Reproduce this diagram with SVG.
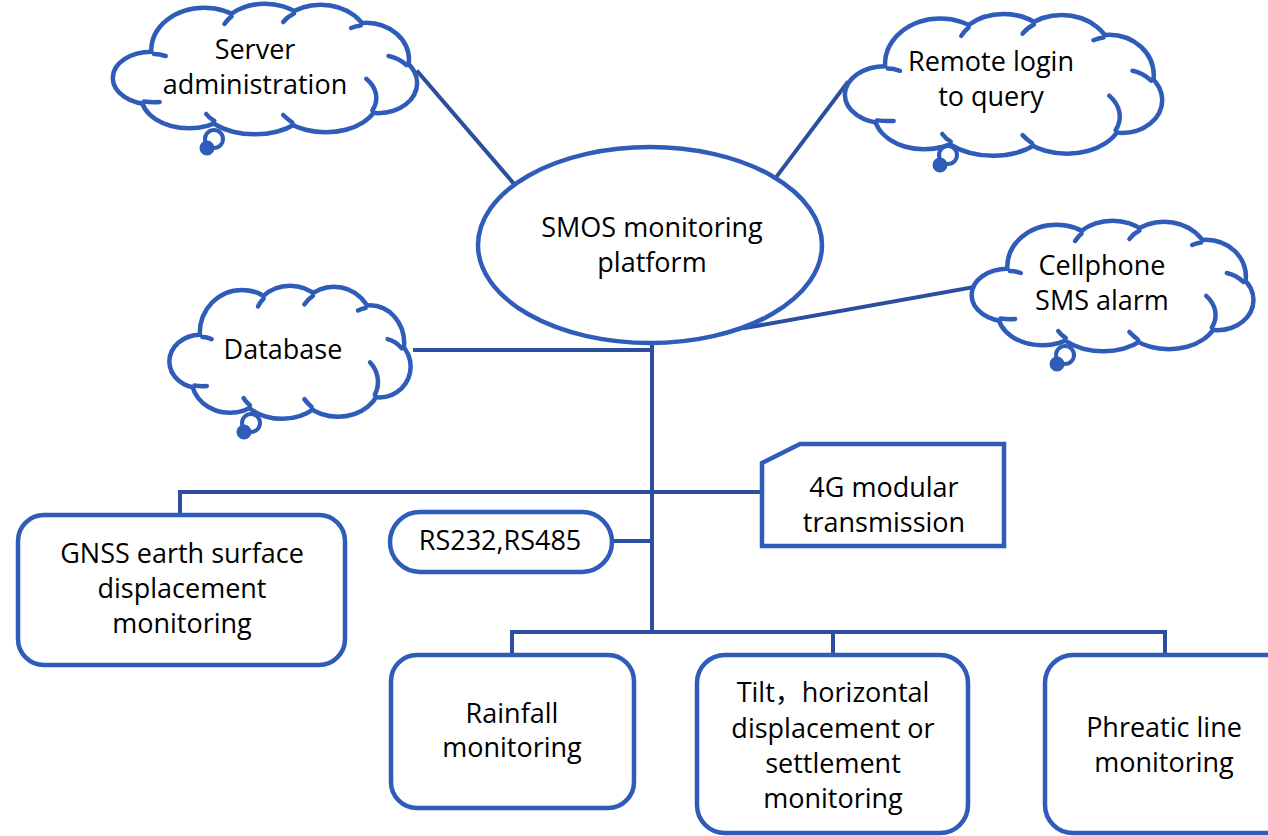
<svg xmlns="http://www.w3.org/2000/svg" xmlns:xlink="http://www.w3.org/1999/xlink" width="1268" height="836" viewBox="0 0 1268 836">
<style>
.shape{fill:#fff;stroke:#2F5CB8;stroke-width:4.5}
.conn{fill:none;stroke:#2B4F9E;stroke-width:4;stroke-linecap:square}
.cOut{fill:none;stroke:#2F5CB8;stroke-width:9}
.cIn{fill:#fff;stroke:none}
.cS{fill:none;stroke:#2F5CB8;stroke-width:4.5;stroke-linecap:round}
.ring{fill:none;stroke:#2F5CB8;stroke-width:4}
.blob{fill:#2F5CB8;stroke:#2F5CB8;stroke-width:2}
.t{font-family:"Open Sans","Noto Sans","Noto Sans CJK SC",sans-serif;font-size:27px;fill:#000;text-anchor:middle}
</style>
<defs>
<g id="cloudE">
<ellipse vector-effect="non-scaling-stroke" cx="38" cy="75" rx="36" ry="24"/>
<ellipse vector-effect="non-scaling-stroke" cx="90" cy="47" rx="50" ry="40"/>
<ellipse vector-effect="non-scaling-stroke" cx="150" cy="36" rx="45" ry="33"/>
<ellipse vector-effect="non-scaling-stroke" cx="205" cy="39" rx="45" ry="35"/>
<ellipse vector-effect="non-scaling-stroke" cx="250" cy="57" rx="40" ry="35"/>
<ellipse vector-effect="non-scaling-stroke" cx="262" cy="80" rx="36" ry="28"/>
<ellipse vector-effect="non-scaling-stroke" cx="210" cy="95" rx="50" ry="32"/>
<ellipse vector-effect="non-scaling-stroke" cx="140" cy="95" rx="55" ry="34"/>
<ellipse vector-effect="non-scaling-stroke" cx="75" cy="93" rx="45" ry="30"/>
<ellipse vector-effect="non-scaling-stroke" cx="150" cy="66" rx="110" ry="45"/>
</g>
<g id="cloudS">
<path vector-effect="non-scaling-stroke" d="M117,13.4 Q113,16.5 110,21"/>
<path vector-effect="non-scaling-stroke" d="M178.7,10.6 Q172,14 168,19"/>
<path vector-effect="non-scaling-stroke" d="M244.5,22.5 Q240,23 235,25"/>
<path vector-effect="non-scaling-stroke" d="M289.6,62 Q282,55 272,53"/>
<path vector-effect="non-scaling-stroke" d="M256,107.5 A50,32 0 0 0 250,75.8"/>
<path vector-effect="non-scaling-stroke" d="M177,119.5 Q172,116 168,112"/>
<path vector-effect="non-scaling-stroke" d="M100,118 Q95,115 92,111"/>
<path vector-effect="non-scaling-stroke" d="M30.5,98.5 Q38,99.5 46,99"/>
<path vector-effect="non-scaling-stroke" d="M40.5,51 Q46,51 52,53"/>
</g>
</defs>

<g id="connectors">
<line class="conn" x1="418" y1="72" x2="515" y2="185"/>
<line class="conn" x1="847" y1="83" x2="777" y2="176"/>
<line class="conn" x1="974" y1="287" x2="745" y2="328"/>
<line class="conn" x1="415" y1="350" x2="652" y2="350"/>
<line class="conn" x1="652" y1="343" x2="652" y2="632"/>
<polyline class="conn" points="180,515 180,492 762,492"/>
<line class="conn" x1="612" y1="541" x2="652" y2="541"/>
<polyline class="conn" points="512,655 512,632 1165,632 1165,655"/>
<line class="conn" x1="833" y1="632" x2="833" y2="655"/>
</g>

<g id="node-server">
<g transform="translate(113,3) scale(1.013,1)"><use xlink:href="#cloudE" class="cOut"/><use xlink:href="#cloudE" class="cIn"/><use xlink:href="#cloudS" class="cS"/></g>
<circle class="ring" cx="214" cy="139" r="9"/>
<circle class="blob" cx="207" cy="148" r="6.5"/>
<text class="t" x="255" y="59">Server</text>
<text class="t" x="255" y="94">administration</text>
</g>

<g id="node-remote">
<g transform="translate(845,13) scale(1.057,1.09)"><use xlink:href="#cloudE" class="cOut"/><use xlink:href="#cloudE" class="cIn"/><use xlink:href="#cloudS" class="cS"/></g>
<circle class="ring" cx="948" cy="155" r="9"/>
<circle class="blob" cx="940" cy="165" r="6.5"/>
<text class="t" x="991" y="71">Remote login</text>
<text class="t" x="991" y="106">to query</text>
</g>

<g id="node-cellphone">
<g transform="translate(972,220) scale(0.937,1)"><use xlink:href="#cloudE" class="cOut"/><use xlink:href="#cloudE" class="cIn"/><use xlink:href="#cloudS" class="cS"/></g>
<circle class="ring" cx="1065" cy="355" r="9"/>
<circle class="blob" cx="1057" cy="364" r="6.5"/>
<text class="t" x="1102" y="275">Cellphone</text>
<text class="t" x="1102" y="310">SMS alarm</text>
</g>

<g id="node-database">
<g transform="translate(170,285) scale(0.8,1.02)"><use xlink:href="#cloudE" class="cOut"/><use xlink:href="#cloudE" class="cIn"/><use xlink:href="#cloudS" class="cS"/></g>
<circle class="ring" cx="251" cy="423" r="9"/>
<circle class="blob" cx="244" cy="432" r="6.5"/>
<text class="t" x="283" y="359">Database</text>
</g>

<g id="node-smos">
<ellipse class="shape" cx="650" cy="245" rx="172" ry="98"/>
<text class="t" x="652" y="237">SMOS monitoring</text>
<text class="t" x="652" y="272">platform</text>
</g>

<g id="node-4g">
<path class="shape" d="M762,463 L800,444 L1004,444 L1004,546 L762,546 Z"/>
<text class="t" x="884" y="497">4G modular</text>
<text class="t" x="884" y="532">transmission</text>
</g>

<g id="node-rs">
<rect class="shape" x="390" y="512" width="222" height="60" rx="30"/>
<text class="t" x="500" y="550">RS232,RS485</text>
</g>

<g id="node-gnss">
<rect class="shape" x="18" y="515" width="327" height="150" rx="26"/>
<text class="t" x="182" y="563">GNSS earth surface</text>
<text class="t" x="182" y="598">displacement</text>
<text class="t" x="182" y="633">monitoring</text>
</g>

<g id="node-rainfall">
<rect class="shape" x="391" y="655" width="243" height="153" rx="26"/>
<text class="t" x="512" y="723">Rainfall</text>
<text class="t" x="512" y="757">monitoring</text>
</g>

<g id="node-tilt">
<rect class="shape" x="697" y="655" width="271" height="178" rx="28"/>
<text class="t" x="833" y="702">Tilt，horizontal</text>
<text class="t" x="833" y="738">displacement or</text>
<text class="t" x="833" y="773">settlement</text>
<text class="t" x="833" y="808">monitoring</text>
</g>

<g id="node-phreatic">
<rect class="shape" x="1045" y="655" width="250" height="178" rx="28"/>
<text class="t" x="1164" y="737">Phreatic line</text>
<text class="t" x="1164" y="772">monitoring</text>
</g>
</svg>
